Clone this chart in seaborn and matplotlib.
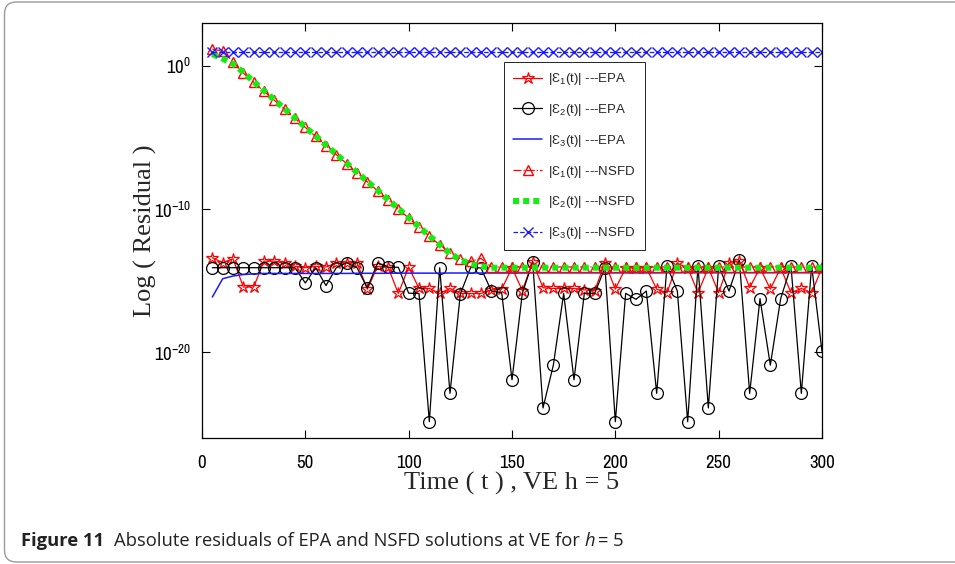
import matplotlib
matplotlib.use("Agg")
import matplotlib.pyplot as plt
import numpy as np
import pandas as pd
import seaborn as sns
from matplotlib import font_manager
from matplotlib.patches import FancyBboxPatch

# ---------------- data (log10 of residuals) ----------------
t = [5, 10, 15, 20, 25, 30, 35, 40, 45, 50, 55, 60, 65, 70, 75, 80, 85, 90, 95, 100,
     105, 110, 115, 120, 125, 130, 135, 140, 145, 150, 155, 160, 165, 170, 175, 180, 185, 190, 195, 200,
     205, 210, 215, 220, 225, 230, 235, 240, 245, 250, 255, 260, 265, 270, 275, 280, 285, 290, 295, 300]

epa_e1_log = [-13.40, -13.75, -13.47, -15.45, -15.45, -13.64, -13.64, -13.80, -14.00, -14.10,
              -14.00, -14.05, -13.80, -13.75, -13.75, -15.60, -14.00, -14.05, -15.90, -14.05,
              -15.55, -15.55, -15.90, -15.55, -15.90, -15.90, -15.90, -15.65, -15.60, -14.10,
              -15.70, -13.70, -15.50, -15.55, -15.55, -15.55, -15.65, -15.70, -13.75, -15.60,
              -14.10, -14.10, -14.10, -15.60, -15.85, -13.80, -14.10, -15.85, -14.10, -15.85,
              -13.75, -13.62, -15.50, -14.10, -15.60, -14.10, -15.85, -15.55, -15.85, -14.10]

epa_e2_log = [-14.10, -14.10, -14.10, -14.10, -14.10, -14.10, -14.10, -14.10, -14.10, -15.17,
              -14.10, -15.35, -14.10, -13.75, -14.10, -15.52, -13.75, -14.07, -14.07, -15.88,
              -15.90, -24.86, -14.10, -22.88, -15.93, -14.08, -14.12, -15.73, -15.84, -21.93,
              -15.89, -13.68, -23.90, -20.91, -15.90, -21.93, -15.89, -15.89, -14.10, -24.86,
              -15.89, -16.31, -15.73, -22.88, -13.98, -15.73, -24.86, -13.98, -23.90, -13.98,
              -15.73, -13.57, -22.88, -16.26, -20.91, -16.26, -13.98, -22.88, -13.98, -19.95]

epa_e3_log = [-16.15, -14.87, -14.68, -14.58, -14.53, -14.50, -14.50, -14.50, -14.50, -14.50,
              -14.50, -14.50, -14.50, -14.50, -14.49, -14.49, -14.49, -14.49, -14.48, -14.48,
              -14.48, -14.48, -14.48, -14.47, -14.47, -14.47, -14.47, -14.47, -14.47, -14.47,
              -14.47, -14.46, -14.46, -14.46, -14.46, -14.46, -14.46, -14.46, -14.46, -14.46,
              -14.46, -14.46, -14.46, -14.46, -14.45, -14.45, -14.45, -14.45, -14.45, -14.45,
              -14.45, -14.45, -14.45, -14.45, -14.45, -14.45, -14.45, -14.45, -14.45, -14.45]

nsfd_e1_log = [1.16, 1.05, 0.28, -0.50, -1.13, -1.77, -2.40, -3.03, -3.67, -4.30,
               -4.93, -5.57, -6.20, -6.83, -7.47, -8.10, -8.73, -9.37, -10.00, -10.63,
               -11.27, -11.90, -12.50, -13.05, -13.50, -13.65, -13.45, -14.05, -14.05, -14.05,
               -14.05, -14.05, -14.05, -14.05, -14.05, -14.05, -14.05, -14.05, -14.05, -14.05,
               -14.05, -14.05, -14.05, -14.05, -14.05, -14.05, -14.05, -14.05, -14.05, -14.05,
               -14.05, -14.05, -14.05, -14.05, -14.05, -14.05, -14.05, -14.05, -14.05, -14.05]

nsfd_e2_log = [0.82, 0.50, 0.15, -0.45, -1.10, -1.74, -2.37, -3.00, -3.64, -4.27,
               -4.90, -5.54, -6.17, -6.80, -7.44, -8.07, -8.70, -9.34, -9.97, -10.60,
               -11.24, -11.87, -12.50, -13.10, -13.55, -13.85, -14.00, -14.10, -14.10, -14.10,
               -14.10, -14.10, -14.10, -14.10, -14.10, -14.10, -14.10, -14.10, -14.10, -14.10,
               -14.10, -14.10, -14.10, -14.10, -14.10, -14.10, -14.10, -14.10, -14.10, -14.10,
               -14.10, -14.10, -14.10, -14.10, -14.10, -14.10, -14.10, -14.10, -14.10, -14.10]

nsfd_e3_log = [0.95] * 60

series_labels = [r"|Ɛ$_1$(t)| ---EPA", r"|Ɛ$_2$(t)| ---EPA", r"|Ɛ$_3$(t)| ---EPA",
                 r"|Ɛ$_1$(t)| ---NSFD", r"|Ɛ$_2$(t)| ---NSFD", r"|Ɛ$_3$(t)| ---NSFD"]
x_ticks = [0, 50, 100, 150, 200, 250, 300]
y_ticks = [1e-20, 1e-10, 1e0]
y_ticklabels = [r"10$^{-20}$", r"10$^{-10}$", r"10$^{0}$"]
x_label = "Time ( t ) , VE h = 5"
y_label = "Log ( Residual )"
caption_bold = "Figure 11"
caption_text = "Absolute residuals of EPA and NSFD solutions at VE for "

# ---------------- style ----------------
sns.set_theme(style="ticks")

# look for a narrow / condensed sans face for tick labels, else Liberation Sans
narrow_family, narrow_stretch = "Liberation Sans", "normal"
found = False
for f in font_manager.fontManager.ttflist:
    if f.style != "normal" or f.weight not in (400, "normal", "regular"):
        continue
    if "Narrow" in f.name or "Condensed" in f.name:
        narrow_family, narrow_stretch = f.name, "normal"
        found = True
        break
if not found:
    for f in font_manager.fontManager.ttflist:
        if f.style != "normal" or f.weight not in (400, "normal", "regular"):
            continue
        if str(f.stretch) in ("condensed", "semi-condensed", "extra-condensed") and \
                f.name in ("Liberation Sans", "Roboto", "Noto Sans", "Open Sans", "DejaVu Sans"):
            narrow_family, narrow_stretch = f.name, str(f.stretch)
            found = True
            break

serif = "Liberation Serif"
cap_font = "Open Sans"
legend_font = ["Liberation Sans", "DejaVu Sans"]

plt.rcParams["font.family"] = [narrow_family, "DejaVu Sans"]
plt.rcParams["font.stretch"] = narrow_stretch
plt.rcParams["mathtext.fontset"] = "custom"
plt.rcParams["mathtext.rm"] = narrow_family
plt.rcParams["mathtext.it"] = narrow_family
plt.rcParams["mathtext.default"] = "regular"
plt.rcParams["axes.edgecolor"] = "black"
plt.rcParams["xtick.color"] = "black"
plt.rcParams["ytick.color"] = "black"

# ---------------- data frame ----------------
logs = [epa_e1_log, epa_e2_log, epa_e3_log, nsfd_e1_log, nsfd_e2_log, nsfd_e3_log]
rows = []
for lab, vals in zip(series_labels, logs):
    for ti, v in zip(t, vals):
        rows.append({"t": ti, "residual": 10.0 ** v, "series": lab})
df = pd.DataFrame(rows)

styles = [
    dict(color="red", linestyle="-", linewidth=0.9, marker="*", markersize=9,
         markerfacecolor="none", markeredgecolor="red", markeredgewidth=0.9),
    dict(color="black", linestyle="-", linewidth=0.9, marker="o", markersize=8.5,
         markerfacecolor="none", markeredgecolor="black", markeredgewidth=0.9),
    dict(color="#1a1aff", linestyle="-", linewidth=1.1, marker=None),
    dict(color="red", linestyle="-.", linewidth=0.9, marker="^", markersize=6.5,
         markerfacecolor="none", markeredgecolor="red", markeredgewidth=1.0),
    dict(color="#11ee11", linestyle=(0, (1, 0.7)), linewidth=4.3, marker=None,
         dash_capstyle="butt"),
    dict(color="#1a1aff", linestyle="--", linewidth=0.9, marker="x", markersize=7,
         markeredgecolor="#1a1aff", markeredgewidth=1.0),
]

fig = plt.figure(figsize=(9.55, 5.64), dpi=100)
ax = fig.add_axes([202 / 955, 1 - 438 / 564, 620 / 955, 415 / 564])

for lab, st in zip(series_labels, styles):
    sub = df[df["series"] == lab]
    kw = dict(st)
    if kw.get("marker") is None:
        kw.pop("marker")
    sns.lineplot(data=sub, x="t", y="residual", ax=ax, label=lab, estimator=None,
                 errorbar=None, sort=False, **kw)

ax.set_yscale("log")
ax.set_xlim(0, 300)
ax.set_ylim(1e-26, 1e3)
ax.set_xticks(x_ticks)
ax.set_xticklabels([str(v) for v in x_ticks])
ax.set_yticks(y_ticks)
ax.set_yticklabels(y_ticklabels)
ax.yaxis.set_minor_locator(matplotlib.ticker.NullLocator())
ax.tick_params(axis="both", which="major", direction="in", length=6, width=0.8,
               top=True, right=True, labelsize=13.5)
ax.tick_params(axis="x", pad=12)
ax.tick_params(axis="y", pad=8)
for sp in ax.spines.values():
    sp.set_visible(True)
    sp.set_linewidth(0.9)
    sp.set_color("black")

ax.set_xlabel(x_label, fontfamily=serif, fontsize=19, labelpad=1)
ax.set_ylabel(y_label, fontfamily=serif, fontsize=19)
ax.yaxis.set_label_coords(-0.072, 0.5)

leg = ax.legend(loc="upper right", bbox_to_anchor=(0.7145, 0.906),
                prop={"family": legend_font, "size": 9.5, "stretch": "normal"},
                frameon=True, fancybox=False, framealpha=1, edgecolor="black",
                handlelength=2.2, handletextpad=0.45, labelspacing=1.12,
                borderpad=0.7, borderaxespad=0)
leg.get_frame().set_linewidth(0.6)

# ---------------- caption and frame ----------------
fig.canvas.draw()
renderer = fig.canvas.get_renderer()
y_cap = 1 - 541 / 564
cap_kw = dict(fontfamily=cap_font, fontsize=13.2, fontstretch="normal", va="center",
              ha="left", color="#222222")
t1 = fig.text(21 / 955, y_cap, caption_bold, fontweight="bold", **cap_kw)
bb = t1.get_window_extent(renderer)
t2 = fig.text((bb.x1 + 10) / fig.bbox.width, y_cap, caption_text, **cap_kw)
bb2 = t2.get_window_extent(renderer)
t3 = fig.text(bb2.x1 / fig.bbox.width, y_cap, "h", fontstyle="italic", **cap_kw)
bb3 = t3.get_window_extent(renderer)
fig.text((bb3.x1 + 3) / fig.bbox.width, y_cap, "= 5", **cap_kw)

frame = FancyBboxPatch((0.045, 0.02), 10.0, 5.6,
                       boxstyle="round,pad=0,rounding_size=0.12",
                       transform=fig.dpi_scale_trans, facecolor="none",
                       edgecolor="#9a9a9a", linewidth=1.0)
fig.add_artist(frame)

fig.savefig("out.png", dpi=100)
